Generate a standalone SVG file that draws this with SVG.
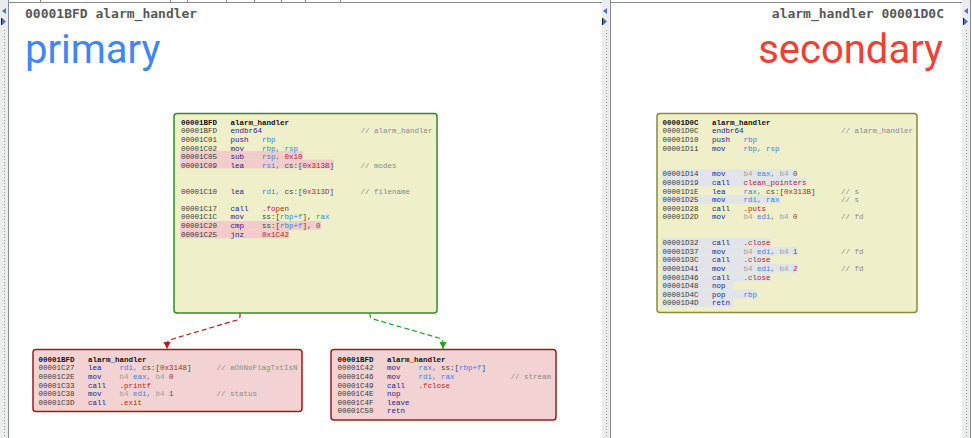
<svg xmlns="http://www.w3.org/2000/svg" width="972" height="438" viewBox="0 0 972 438">
<style>
text{font-family:"Liberation Mono","DejaVu Sans Mono",monospace;font-size:7.5px;white-space:pre}
.hdr{font-family:"DejaVu Sans Mono","Liberation Mono",monospace;font-size:13px;font-weight:bold;fill:#585858}
.big{font-family:Roboto,"Open Sans","Liberation Sans",sans-serif;font-size:40px}
.a{fill:#3a3a3a}
.ab{fill:#111;font-weight:bold}
.m{fill:#25258f}
.r{fill:#3b82e0}
.n{fill:#b02a2a}
.g{fill:#444}
.c{fill:#8a8a8a}
.d{fill:#a0a0a0}
.nodeY{fill:#efefc9;stroke-width:1.5}
.nodeP{fill:#f2d2d2;stroke:#9b1c1c;stroke-width:1.5}
.hp{fill:#f2cbcb}
.hb{fill:#e1e5ea}
.strip{fill:#ececec}
.dots{stroke:#9a9a9a;stroke-width:1;stroke-dasharray:1 2}
.sep{stroke:#7f8fa0;stroke-width:1}
.arrL{fill:#4a70c0}
.edge{fill:none;stroke-width:1.2;stroke-dasharray:5 3}
</style>
<defs>
<marker id="ar" markerUnits="userSpaceOnUse" markerWidth="8" markerHeight="8" refX="7" refY="4" orient="auto"><path d="M0,0.5 L7,4 L0,7.5 Z" fill="#b02020"/></marker>
<marker id="ag" markerUnits="userSpaceOnUse" markerWidth="8" markerHeight="8" refX="7" refY="4" orient="auto"><path d="M0,0.5 L7,4 L0,7.5 Z" fill="#22a022"/></marker>
</defs>
<rect width="972" height="438" fill="#ffffff"/>
<g id="chrome">
<rect class="strip" x="0" y="0" width="8" height="438"/>
<line class="dots" x1="4.5" y1="30" x2="4.5" y2="438"/>
<line class="sep" x1="8.5" y1="0" x2="8.5" y2="438"/>
<polygon class="arrL" points="6,8 2,11 6,14"/>
<polygon class="arrL" points="2,18 6,21.5 2,25"/>
<line x1="1.5" y1="18" x2="1.5" y2="25" stroke="#222"/>
<rect class="strip" x="602" y="0" width="8" height="438"/>
<line class="dots" x1="606.5" y1="30" x2="606.5" y2="438"/>
<line class="sep" x1="610.5" y1="0" x2="610.5" y2="438"/>
<polygon class="arrL" points="607,8 603,11 607,14"/>
<polygon class="arrL" points="603,18 607,21.5 603,25"/>
<line x1="602.5" y1="18" x2="602.5" y2="25" stroke="#222"/>
<rect class="strip" x="962" y="0" width="8" height="438"/>
<line class="dots" x1="966.5" y1="30" x2="966.5" y2="438"/>
<line class="sep" x1="970.5" y1="0" x2="970.5" y2="438"/>
<polygon class="arrL" points="968,8 964,11 968,14"/>
<polygon class="arrL" points="964,18 968,21.5 964,25"/>
<line x1="963.5" y1="18" x2="963.5" y2="25" stroke="#222"/>
<line x1="9" y1="2.5" x2="602" y2="2.5" stroke="#8c8c8c"/>
<line x1="611" y1="2.5" x2="962" y2="2.5" stroke="#8c8c8c"/>
<path d="M40.5,0 V2 M170.5,0 V2 M187.5,0 V2 M226.5,0 V2 M254.5,0 V2 M281.5,0 V2 M305.5,0 V2 M340.5,0 V2" stroke="#8c8c8c" fill="none"/>
</g>
<g id="headers">
<text class="hdr" x="25" y="18">00001BFD alarm_handler</text>
<text class="big" x="25" y="63" fill="#4285f4">primary</text>
<text class="hdr" x="944" y="18" text-anchor="end">alarm_handler 00001D0C</text>
<text class="big" x="943" y="63" fill="#ea4335" text-anchor="end">secondary</text>
</g>
<g id="connectors">
<path class="edge" stroke="#b02020" d="M240,313 L240,316 Q240,319 237,320 L171,339.5 Q167,340.7 167,344 L167,349" marker-end="url(#ar)"/>
<path class="edge" stroke="#22a022" d="M370,313 L370,315 Q370,318 373,319 L439,338 Q443,339.2 443,343 L443,349" marker-end="url(#ag)"/>
</g>
<g id="node-primary">
<rect class="nodeY" x="174" y="113.5" width="263" height="199.5" rx="3" stroke="#2f8f2f"/>
<rect class="hp" x="180" y="151.1" width="123" height="8.6"/>
<rect class="hp" x="180" y="159.7" width="154" height="8.6"/>
<rect class="hp" x="180" y="221.1" width="141" height="8.6"/>
<rect class="hp" x="180" y="229.7" width="109" height="8.6"/>
<text y="124.7"><tspan class="ab" x="181">00001BFD</tspan><tspan class="ab" x="230.5">alarm_handler</tspan></text>
<text y="133.3"><tspan class="a" x="181">00001BFD</tspan><tspan class="m" x="230.5">endbr64</tspan><tspan class="c" x="360.5">// alarm_handler</tspan></text>
<text y="141.9"><tspan class="a" x="181">00001C01</tspan><tspan class="m" x="230.5">push</tspan><tspan class="r" x="262">rbp</tspan></text>
<text y="150.5"><tspan class="a" x="181">00001C02</tspan><tspan class="m" x="230.5">mov</tspan><tspan class="r" x="262">rbp, rsp</tspan></text>
<text y="159.1"><tspan class="a" x="181">00001C05</tspan><tspan class="m" x="230.5">sub</tspan><tspan class="r" x="262">rsp, </tspan><tspan class="n">0x10</tspan></text>
<text y="167.7"><tspan class="a" x="181">00001C09</tspan><tspan class="m" x="230.5">lea</tspan><tspan class="r" x="262">rsi, </tspan><tspan class="g">cs:[</tspan><tspan class="n">0x313B</tspan><tspan class="g">]</tspan><tspan class="c" x="360.5">// modes</tspan></text>
<text y="193.5"><tspan class="a" x="181">00001C10</tspan><tspan class="m" x="230.5">lea</tspan><tspan class="r" x="262">rdi, </tspan><tspan class="g">cs:[</tspan><tspan class="n">0x313D</tspan><tspan class="g">]</tspan><tspan class="c" x="360.5">// filename</tspan></text>
<text y="210.7"><tspan class="a" x="181">00001C17</tspan><tspan class="m" x="230.5">call</tspan><tspan class="n" x="262">.fopen</tspan></text>
<text y="219.3"><tspan class="a" x="181">00001C1C</tspan><tspan class="m" x="230.5">mov</tspan><tspan class="g" x="262">ss:[</tspan><tspan class="r">rbp+f</tspan><tspan class="g">], </tspan><tspan class="r">rax</tspan></text>
<text y="227.9"><tspan class="a" x="181">00001C20</tspan><tspan class="m" x="230.5">cmp</tspan><tspan class="g" x="262">ss:[</tspan><tspan class="r">rbp+f</tspan><tspan class="g">], </tspan><tspan class="n">0</tspan></text>
<text y="236.5"><tspan class="a" x="181">00001C25</tspan><tspan class="m" x="230.5">jnz</tspan><tspan class="n" x="262">0x1C42</tspan></text>
</g>
<g id="node-secondary">
<rect class="nodeY" x="657" y="113.5" width="260" height="199" rx="3" stroke="#8a8a3e"/>
<rect class="hb" x="661.5" y="169.3" width="136" height="8.6"/>
<rect class="hb" x="661.5" y="177.9" width="145" height="8.6"/>
<rect class="hb" x="661.5" y="195.1" width="119" height="8.6"/>
<rect class="hb" x="661.5" y="238.1" width="109" height="8.6"/>
<rect class="hb" x="661.5" y="246.7" width="136" height="8.6"/>
<rect class="hb" x="661.5" y="255.3" width="109" height="8.6"/>
<rect class="hb" x="661.5" y="263.9" width="136" height="8.6"/>
<rect class="hb" x="661.5" y="272.5" width="109" height="8.6"/>
<rect class="hb" x="661.5" y="281.1" width="72" height="8.6"/>
<rect class="hb" x="661.5" y="289.7" width="95" height="8.6"/>
<rect class="hb" x="661.5" y="298.3" width="72" height="8.6"/>
<text y="124.7"><tspan class="ab" x="662.5">00001D0C</tspan><tspan class="ab" x="712">alarm_handler</tspan></text>
<text y="133.3"><tspan class="a" x="662.5">00001D0C</tspan><tspan class="m" x="712">endbr64</tspan><tspan class="c" x="841">// alarm_handler</tspan></text>
<text y="141.9"><tspan class="a" x="662.5">00001D10</tspan><tspan class="m" x="712">push</tspan><tspan class="r" x="743.5">rbp</tspan></text>
<text y="150.5"><tspan class="a" x="662.5">00001D11</tspan><tspan class="m" x="712">mov</tspan><tspan class="r" x="743.5">rbp, rsp</tspan></text>
<text y="176.3"><tspan class="a" x="662.5">00001D14</tspan><tspan class="m" x="712">mov</tspan><tspan class="d" x="743.5">b4 </tspan><tspan class="r">eax, </tspan><tspan class="d">b4 </tspan><tspan class="n">0</tspan></text>
<text y="184.9"><tspan class="a" x="662.5">00001D19</tspan><tspan class="m" x="712">call</tspan><tspan class="n" x="743.5">clean_pointers</tspan></text>
<text y="193.5"><tspan class="a" x="662.5">00001D1E</tspan><tspan class="m" x="712">lea</tspan><tspan class="r" x="743.5">rax, </tspan><tspan class="g">cs:[</tspan><tspan class="n">0x313B</tspan><tspan class="g">]</tspan><tspan class="c" x="841">// s</tspan></text>
<text y="202.1"><tspan class="a" x="662.5">00001D25</tspan><tspan class="m" x="712">mov</tspan><tspan class="r" x="743.5">rdi, rax</tspan><tspan class="c" x="841">// s</tspan></text>
<text y="210.7"><tspan class="a" x="662.5">00001D28</tspan><tspan class="m" x="712">call</tspan><tspan class="n" x="743.5">.puts</tspan></text>
<text y="219.3"><tspan class="a" x="662.5">00001D2D</tspan><tspan class="m" x="712">mov</tspan><tspan class="d" x="743.5">b4 </tspan><tspan class="r">edi, </tspan><tspan class="d">b4 </tspan><tspan class="n">0</tspan><tspan class="c" x="841">// fd</tspan></text>
<text y="245.1"><tspan class="a" x="662.5">00001D32</tspan><tspan class="m" x="712">call</tspan><tspan class="n" x="743.5">.close</tspan></text>
<text y="253.7"><tspan class="a" x="662.5">00001D37</tspan><tspan class="m" x="712">mov</tspan><tspan class="d" x="743.5">b4 </tspan><tspan class="r">edi, </tspan><tspan class="d">b4 </tspan><tspan class="n">1</tspan><tspan class="c" x="841">// fd</tspan></text>
<text y="262.3"><tspan class="a" x="662.5">00001D3C</tspan><tspan class="m" x="712">call</tspan><tspan class="n" x="743.5">.close</tspan></text>
<text y="270.9"><tspan class="a" x="662.5">00001D41</tspan><tspan class="m" x="712">mov</tspan><tspan class="d" x="743.5">b4 </tspan><tspan class="r">edi, </tspan><tspan class="d">b4 </tspan><tspan class="n">2</tspan><tspan class="c" x="841">// fd</tspan></text>
<text y="279.5"><tspan class="a" x="662.5">00001D46</tspan><tspan class="m" x="712">call</tspan><tspan class="n" x="743.5">.close</tspan></text>
<text y="288.1"><tspan class="a" x="662.5">00001D48</tspan><tspan class="m" x="712">nop</tspan></text>
<text y="296.7"><tspan class="a" x="662.5">00001D4C</tspan><tspan class="m" x="712">pop</tspan><tspan class="r" x="743.5">rbp</tspan></text>
<text y="305.3"><tspan class="a" x="662.5">00001D4D</tspan><tspan class="m" x="712">retn</tspan></text>
</g>
<g id="node-exit">
<rect class="nodeP" x="33" y="349.5" width="269" height="62" rx="3"/>
<text y="361.7"><tspan class="ab" x="38.5">00001BFD</tspan><tspan class="ab" x="88">alarm_handler</tspan></text>
<text y="370.3"><tspan class="a" x="38.5">00001C27</tspan><tspan class="m" x="88">lea</tspan><tspan class="r" x="119.5">rdi, </tspan><tspan class="g">cs:[</tspan><tspan class="n">0x3148</tspan><tspan class="g">]</tspan><tspan class="c" x="216.5">// aOhNoFlagTxtIsN</tspan></text>
<text y="378.9"><tspan class="a" x="38.5">00001C2E</tspan><tspan class="m" x="88">mov</tspan><tspan class="d" x="119.5">b4 </tspan><tspan class="r">eax, </tspan><tspan class="d">b4 </tspan><tspan class="n">0</tspan></text>
<text y="387.5"><tspan class="a" x="38.5">00001C33</tspan><tspan class="m" x="88">call</tspan><tspan class="n" x="119.5">.printf</tspan></text>
<text y="396.1"><tspan class="a" x="38.5">00001C38</tspan><tspan class="m" x="88">mov</tspan><tspan class="d" x="119.5">b4 </tspan><tspan class="r">edi, </tspan><tspan class="d">b4 </tspan><tspan class="n">1</tspan><tspan class="c" x="216.5">// status</tspan></text>
<text y="404.7"><tspan class="a" x="38.5">00001C3D</tspan><tspan class="m" x="88">call</tspan><tspan class="n" x="119.5">.exit</tspan></text>
</g>
<g id="node-close">
<rect class="nodeP" x="331" y="349.5" width="225" height="70.5" rx="3"/>
<text y="361.7"><tspan class="ab" x="337.5">00001BFD</tspan><tspan class="ab" x="387">alarm_handler</tspan></text>
<text y="370.3"><tspan class="a" x="337.5">00001C42</tspan><tspan class="m" x="387">mov</tspan><tspan class="r" x="418.5">rax, </tspan><tspan class="g">ss:[</tspan><tspan class="r">rbp+f</tspan><tspan class="g">]</tspan></text>
<text y="378.9"><tspan class="a" x="337.5">00001C46</tspan><tspan class="m" x="387">mov</tspan><tspan class="r" x="418.5">rdi, rax</tspan><tspan class="c" x="510.5">// stream</tspan></text>
<text y="387.5"><tspan class="a" x="337.5">00001C49</tspan><tspan class="m" x="387">call</tspan><tspan class="n" x="418.5">.fclose</tspan></text>
<text y="396.1"><tspan class="a" x="337.5">00001C4E</tspan><tspan class="m" x="387">nop</tspan></text>
<text y="404.7"><tspan class="a" x="337.5">00001C4F</tspan><tspan class="m" x="387">leave</tspan></text>
<text y="413.3"><tspan class="a" x="337.5">00001C50</tspan><tspan class="m" x="387">retn</tspan></text>
</g>
</svg>
